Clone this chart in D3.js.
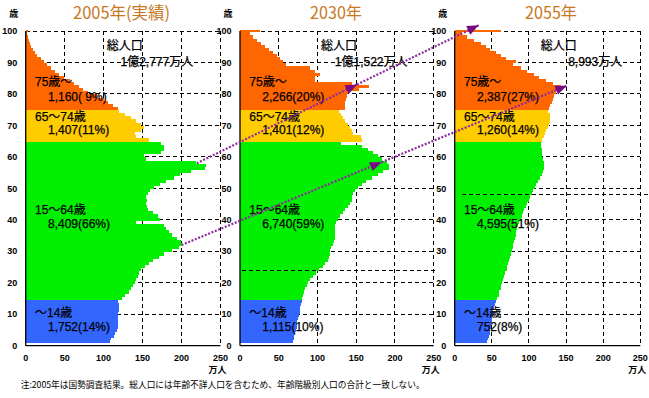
<!DOCTYPE html>
<html><head><meta charset="utf-8">
<script src="https://cdn.jsdelivr.net/npm/d3@7"></script>
<style>body{margin:0;background:#fff}svg{display:block}</style>
</head><body>
<svg id="c" width="649" height="398"></svg>
<script>
// ---- data (万人, ages 0..100) ----
const years = ["2005年(実績)", "2030年", "2055年"];
const pop2005 = [108,110,113,115,117,118,119,119,118,119,119,120,120,120,119,
 124,128,132,135,138,140,142,144,146,148,
 153,158,164,171,178,188,197,200,199,194,
 188,184,180,178,142,172,170,164,157,156,
 155,156,155,157,160,165,172,180,190,198,
 212,230,232,218,154,152,174,178,178,174,
 158,141,140,148,152,148,141,135,127,120,
 118,112,106,100,92,80,73,68,62,57,
 49,43,38,33,27,23,19,15,12,10,
 7,5,4,3,2,2.5];
const pop2030 = [69,70,70,71,72,73,73,74,75,76,77,77,78,79,80,
 80,81,83,84,86,88,90,94,98,102,
 107,110,113,115,116,116,118,120,121,122,
 122,122,123,123,124,126,129,133,136,139,
 142,144,145,146,149,152,157,163,170,178,
 185,192,192,190,183,178,172,165,157,131,
 158,156,146,144,142,140,135,133,130,128,
 135,136,136,137,138,140,153,166,144,97,
 97,103,97,90,60,56,52,48,43,38,
 32,27,21.5,17,13,26];
const pop2055 = [44,45,46,47,48,49,49,50,50,51,51,52,53,54,55,
 57,59,60,62,63,64,65,67,68,70,
 71,72,73,75,76,77,78,79,80,81,
 82,83,84,85,87,89,90,92,94,96,
 98,100,102,104,106,108,110,112,115,117,
 119,120,120,120,119,118,117,117,116,116,
 117,120,122,123,125,127,129,129,128,126,
 127,129,131,132,134,136,143,143,132,123,
 114,107,98,89,78,82,69,62,55,48,
 42,35,26,17,10,62];
const series = [pop2005, pop2030, pop2055];
const groupNames = ["75歳～", "65～74歳", "15～64歳", "～14歳"];
const groupValues = [
  ["1,160( 9%)", "1,407(11%)", "8,409(66%)", "1,752(14%)"],
  ["2,266(20%)", "1,401(12%)", "6,740(59%)", "1,115(10%)"],
  ["2,387(27%)", "1,260(14%)", "4,595(51%)", "752(8%)"]
];
const totals = ["1億2,777万人", "1億1,522万人", "8,993万人"];
const xTicks = [0, 50, 100, 150, 200, 250];
const yTicks = [0, 10, 20, 30, 40, 50, 60, 70, 80, 90, 100];
// cohort arrows: [panel, value, age] -> [panel, value, age]
const arrows = [
  [[0, 219.5, 57.96], [1, 151, 83.0]],
  [[0, 200, 32.0], [1, 182.6, 58.3]],
  [[1, 151, 83.0], [2, 32.2, 101.8]],
  [[1, 182.6, 58.3], [2, 151, 82.6]]
];
const note = "注:2005年は国勢調査結果。総人口には年齢不詳人口を含むため、年齢階級別人口の合計と一致しない。";

// ---- layout ----
const svg = d3.select("#c");
const panels = [[25.7, 220.5], [240, 433.7], [454.7, 640.3]];
const xs = panels.map(p => d3.scaleLinear().domain([0, 250]).range(p));
const yAxis = d3.scaleLinear().domain([0, 100]).range([345.7, 31]);
const yBand = d3.scaleLinear().domain([0, 15, 65, 75, 100, 101]).range([343.3, 300, 141.5, 110, 32.3, 30]);
const color = a => a < 15 ? "#3366ff" : a < 65 ? "#00f000" : a < 75 ? "#ffcc00" : "#ff6600";
const jp = "'Noto Sans CJK JP', sans-serif";
const mix = "'Liberation Sans', 'Noto Sans CJK JP', sans-serif";
const lat = "'Liberation Sans', Arial, sans-serif";

series.forEach((data, i) => {
  const x = xs[i];
  const x0 = x(0), x1 = x(250);
  const g = svg.append("g");
  // grid
  g.selectAll(".hg").data(yTicks.filter(t => t > 0)).join("line")
    .attr("x1", x0).attr("x2", x1).attr("y1", d => yAxis(d)).attr("y2", d => yAxis(d))
    .attr("stroke", "#000").attr("stroke-width", 1).attr("stroke-dasharray", "4,3")
    .attr("shape-rendering", "crispEdges");
  g.selectAll(".vg").data(xTicks.filter(t => t > 0)).join("line")
    .attr("x1", d => x(d)).attr("x2", d => x(d)).attr("y1", yAxis(100)).attr("y2", yAxis(0))
    .attr("stroke", "#000").attr("stroke-width", 1).attr("stroke-dasharray", "4,3")
    .attr("shape-rendering", "crispEdges");
  // bars
  g.selectAll(".bar").data(data.map((v, a) => ({v, a}))).join("rect")
    .attr("x", x0).attr("width", d => x(d.v) - x0)
    .attr("y", d => yBand(d.a + 1)).attr("height", d => yBand(d.a) - yBand(d.a + 1))
    .attr("fill", d => color(d.a)).attr("shape-rendering", "crispEdges");
  // axes
  g.append("line").attr("x1", x0).attr("x2", x0).attr("y1", yAxis(100)).attr("y2", yAxis(0))
    .attr("stroke", "#000").attr("stroke-width", 1.3);
  g.append("line").attr("x1", x0).attr("x2", x1).attr("y1", yAxis(0)).attr("y2", yAxis(0))
    .attr("stroke", "#000").attr("stroke-width", 1.3);
  // tick labels
  g.selectAll(".yl").data(yTicks).join("text")
    .attr("x", x0 - 8.5).attr("y", d => yAxis(d) + 3.2).attr("text-anchor", "end")
    .attr("font-family", lat).attr("font-weight", "bold").attr("font-size", 9).text(d => d);
  g.selectAll(".xl").data(xTicks).join("text")
    .attr("x", d => x(d)).attr("y", 360.5).attr("text-anchor", "middle")
    .attr("font-family", lat).attr("font-weight", "bold").attr("font-size", 9).text(d => d);
  g.append("text").attr("x", x1 - 3).attr("y", 372.5).attr("text-anchor", "middle")
    .attr("font-family", mix).attr("font-weight", "bold").attr("font-size", 9).text("万人");
  g.append("text").attr("x", x0 - 12).attr("y", 16.5).attr("text-anchor", "middle")
    .attr("font-family", mix).attr("font-weight", "bold").attr("font-size", 9).text("歳");
  // title
  g.append("text").attr("x", [121.5, 336, 551][i]).attr("y", 18.5).attr("text-anchor", "middle")
    .attr("font-family", jp).attr("font-size", 17).attr("fill", "#c8781e")
    .attr("textLength", [97, 52, 52][i]).attr("lengthAdjust", "spacingAndGlyphs")
    .text(years[i]);
  // annotations
  const txt = (tx, ty, s, anchor) => g.append("text").attr("x", tx).attr("y", ty)
    .attr("text-anchor", anchor || "start").attr("font-family", mix).attr("font-size", 12)
    .attr("fill", "#000").attr("stroke", "#000").attr("stroke-width", 0.25).text(s);
  txt(x0 + (i === 2 ? 86 : 81), 50, "総人口");
  txt(x0 + 167.5, 66, totals[i], "end");
  const nameY = [85.5, 121, 213.5, 317], valY = [100.5, 134, 228, 330.5];
  groupNames.forEach((n, k) => {
    txt(x0 + 9.3, nameY[k], n);
    txt(x0 + 22.3, valY[k], groupValues[i][k]);
  });
});

// stray dashed lines from the original
[[xs[1](0) + 2, xs[1](250) + 1, 270], [462, 649, 194.3]].forEach(l => {
  svg.append("line").attr("x1", l[0]).attr("x2", l[1]).attr("y1", l[2]).attr("y2", l[2])
    .attr("stroke", "#000").attr("stroke-dasharray", "4,3").attr("shape-rendering", "crispEdges");
});

// cohort arrows
const pt = p => [xs[p[0]](p[1]), yAxis(p[2])];
arrows.forEach(([a, b]) => {
  const [ax, ay] = pt(a), [bx, by] = pt(b);
  svg.append("line").attr("x1", ax).attr("y1", ay).attr("x2", bx).attr("y2", by)
    .attr("stroke", "#8e2a9e").attr("stroke-width", 2.2).attr("stroke-dasharray", "2,1.6");
  const ang = Math.atan2(by - ay, bx - ax);
  const L = 11.5, W = 4.8;
  const cx = bx - L * Math.cos(ang), cy = by - L * Math.sin(ang);
  const px = -Math.sin(ang) * W, py = Math.cos(ang) * W;
  svg.append("polygon")
    .attr("points", [[bx, by], [cx + px, cy + py], [cx - px, cy - py]].map(p => p.join(",")).join(" "))
    .attr("fill", "#760a82");
});

// footnote
svg.append("text").attr("x", 20.7).attr("y", 388).attr("font-family", jp).attr("font-size", 9)
  .attr("textLength", 404).attr("lengthAdjust", "spacingAndGlyphs").text(note);
</script>
</body></html>
